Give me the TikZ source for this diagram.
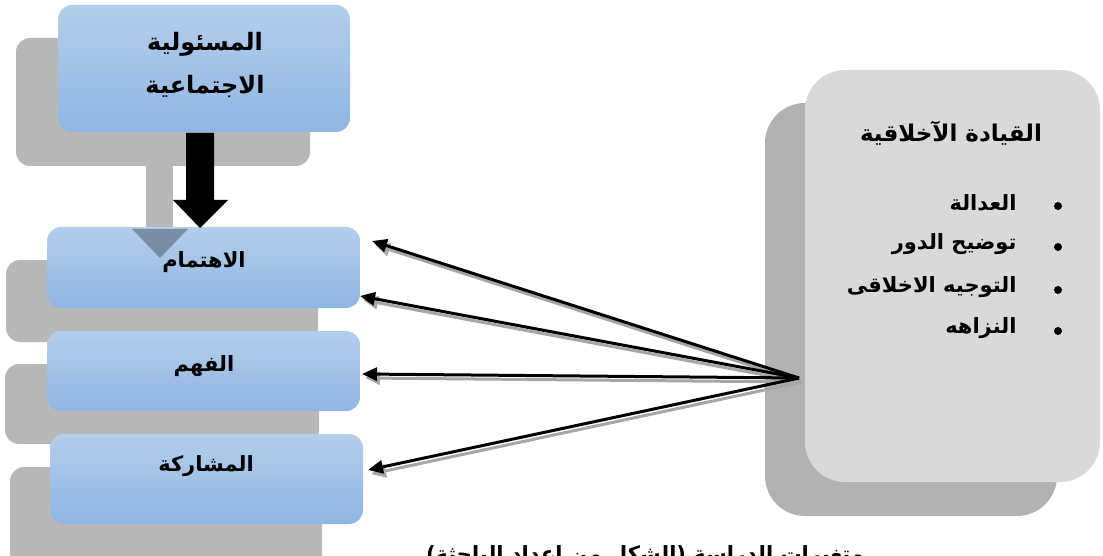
\documentclass[tikz,border=0pt]{standalone}
\usepackage{fontspec}
\usetikzlibrary{arrows.meta}
\newfontfamily\arabicfont[Script=Arabic]{DejaVu Sans}
\TeXXeTstate=1
\definecolor{bluetop}{RGB}{180,206,236}
\definecolor{bluebot}{RGB}{143,182,226}
\definecolor{shadowgray}{RGB}{184,184,184}
\definecolor{panelgray}{RGB}{217,217,217}
\definecolor{panelshadow}{RGB}{178,178,178}
\tikzset{
  bluebox/.style={rounded corners=14pt, top color=bluetop, bottom color=bluebot, draw=none},
  shbox/.style={rounded corners=14pt, fill=shadowgray, draw=none},
  artxt/.style={font=\arabicfont\bfseries\fontsize{21}{30}\selectfont, text=black, align=center},
  conn/.style={line width=3pt, -{Triangle[length=15pt,width=13pt]}},
  connsh/.style={line width=3pt, draw=black!35, -{Triangle[length=15pt,width=13pt]}},
}
\begin{document}
\begin{tikzpicture}[x=1pt,y=-1pt]
\useasboundingbox (0,0) rectangle (1103,556);
\clip (0,0) rectangle (1103,556);
% left shadows
\fill[shbox] (16,38) rectangle (310,166);
\fill[shbox] (6,260) rectangle (318,342);
\fill[shbox] (5,364) rectangle (319,444);
\fill[shbox] (10,467) rectangle (322,570);
% gray shadow arrow shaft (opaque part)
\fill[shadowgray] (146,166) rectangle (173,229);
% blue boxes
\shade[bluebox] (58,5) rectangle (350,132);
\node[artxt, font=\arabicfont\bfseries\fontsize{24}{43}\selectfont] (b0) at (205,65) {\beginR المسئولية\endR\\\beginR الاجتماعية\endR};
\shade[bluebox] (47,227) rectangle (360,308);
\node[artxt] (b1) at (204,262) {\beginR الاهتمام\endR};
\shade[bluebox] (47,331) rectangle (360,411);
\node[artxt] (b2) at (204,366) {\beginR الفهم\endR};
\shade[bluebox] (50,434) rectangle (363,524);
\node[artxt] (b3) at (206,466) {\beginR المشاركة\endR};
% gray arrow (semi-transparent) over box
\fill[black,opacity=0.3] (146,229) -- (132,229) -- (160,258) -- (188,229) -- (173,229) -- cycle;
% black arrow
\fill[black] (186,133) -- (214,133) -- (214,200) -- (228,200) -- (200,228) -- (173,200) -- (186,200) -- cycle;
% right panel
\fill[panelshadow, rounded corners=40pt] (765,103) rectangle (1057,516);
\fill[panelgray, rounded corners=40pt] (805,70) rectangle (1100,482);
\node[artxt, font=\arabicfont\bfseries\fontsize{23}{30}\selectfont] (title) at (951,133) {\beginR القيادة الآخلاقية\endR};
\node[artxt, anchor=east] (i1) at (1020,203) {\beginR العدالة\endR};
\node[artxt, anchor=east] (i2) at (1020,244) {\beginR توضيح الدور\endR};
\node[artxt, anchor=east] (i3) at (1020,287) {\beginR التوجيه الاخلاقى\endR};
\node[artxt, anchor=east] (i4) at (1020,328) {\beginR النزاهه\endR};
\foreach \y in {206,247,290,331} \fill (1058,\y) circle (4pt);
% connectors
\coordinate (src) at (799,378);
\coordinate (t1) at (372,241);
\coordinate (t2) at (360,296);
\coordinate (t3) at (362,374);
\coordinate (t4) at (368,470);
\foreach \t in {t1,t2,t3,t4}
  \draw[connsh] ([shift={(3,4)}]src) -- ([shift={(3,4)}]\t);
\foreach \t in {t1,t2,t3,t4}
  \draw[conn] (src) -- (\t);
% caption
\node[artxt] (cap) at (645,556) {\beginR متغيرات الدراسة (الشكل من اعداد الباحثة)\endR};
\end{tikzpicture}
\end{document}
